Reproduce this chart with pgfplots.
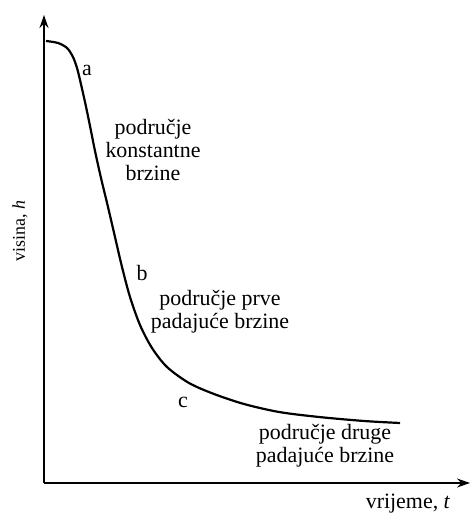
\documentclass[border=0pt]{standalone}
\usepackage{pgfplots}
\pgfplotsset{compat=1.18}
\usepackage{fontspec}
\setmainfont{Liberation Serif}
\usetikzlibrary{arrows.meta}
\begin{document}
\begin{tikzpicture}[x=1bp,y=1bp]
\path[use as bounding box] (-44,-32) rectangle (426,483);
\begin{axis}[
  at={(0,0)}, anchor=origin,
  scale only axis, width=426bp, height=468bp,
  xmin=0, xmax=426, ymin=0, ymax=468,
  axis lines=left, ticks=none,
  axis line style={line width=1.4bp, -{Stealth[length=13bp,width=9bp]}},
  clip=false,
]
\addplot[black, line width=2.2bp, smooth] coordinates {
(2,442) (14,440) (23,435) (29,426) (33,415) (36,403) (41,381) (46,357)
(51,332) (57,305) (64,276) (71,246) (78,216) (86,186) (96,158) (108,135)
(123,116) (145,100) (170,89) (200,79) (235,71) (275,66) (320,62) (356,60)
};
\node[font=\fontsize{22}{23}\selectfont] at (axis cs:43,413) {a};
\node[font=\fontsize{22}{23}\selectfont] at (axis cs:98,210) {b};
\node[font=\fontsize{22}{23}\selectfont] at (axis cs:139,81) {c};
\node[align=center, font=\fontsize{22}{23}\selectfont] at (axis cs:109,333) {područje\\konstantne\\brzine};
\node[align=center, font=\fontsize{22}{23}\selectfont] at (axis cs:176,171) {područje prve\\padajuće brzine};
\node[align=center, font=\fontsize{22}{23}\selectfont] at (axis cs:281,37) {područje druge\\padajuće brzine};
\node[font=\fontsize{22}{23}\selectfont] at (axis cs:364,-21) {vrijeme, \textit{t}};
\node[rotate=90, font=\fontsize{18}{20}\selectfont] at (axis cs:-24,252) {visina, \textit{h}};
\end{axis}
\end{tikzpicture}
\end{document}
